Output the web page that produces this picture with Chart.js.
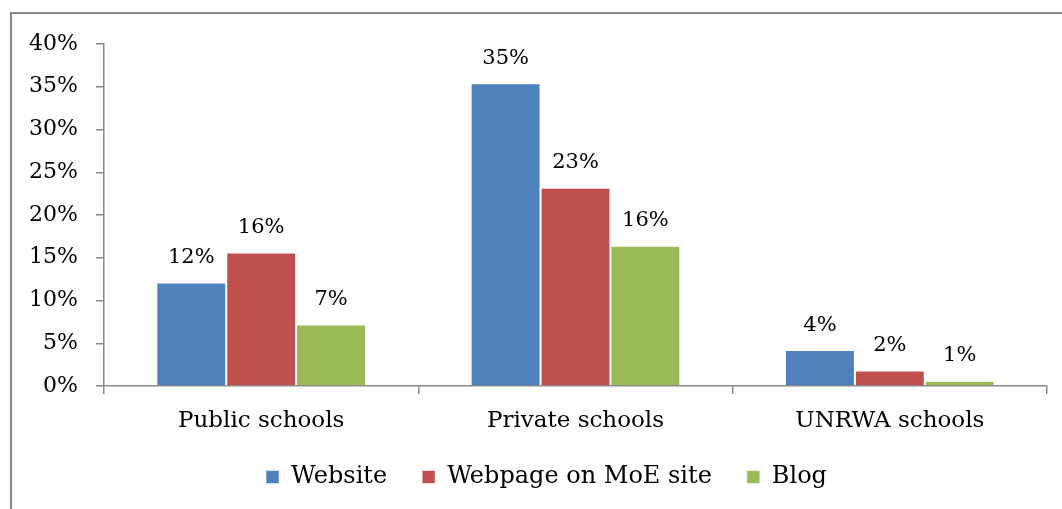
<!DOCTYPE html>
<html>
<head>
<meta charset="utf-8">
<script src="https://cdn.jsdelivr.net/npm/chart.js@4"></script>
<style>
  html, body { margin: 0; padding: 0; background: #fff; }
  #wrap { width: 1062px; height: 509px; position: relative; }
</style>
</head>
<body>
<div id="wrap"><canvas id="chart"></canvas></div>
<script>
/* Dados */
const categories = ['Public schools', 'Private schools', 'UNRWA schools'];
const seriesNames = ['Website', 'Webpage on MoE site', 'Blog'];
const websiteVals = [12.1, 35.4, 4.2];
const webpageVals = [15.6, 23.2, 1.8];
const blogVals    = [7.2, 16.4, 0.6];
const yTicks      = [0, 5, 10, 15, 20, 25, 30, 35, 40];

const colors = ['#4F81BD', '#C0504D', '#9BBB59'];
const FONT = "'DejaVu Serif', serif";
const AXIS = '#8a8a8a';

/* Moldura cinza em volta do gráfico + legenda deslocada p/ direita */
const framePlugin = {
  id: 'frame',
  afterLayout(chart) {
    if (chart.legend) {
      chart.legend.left += 23;
      chart.legend.right += 23;
    }
  },
  beforeDraw(chart) {
    const ctx = chart.ctx;
    ctx.save();
    ctx.strokeStyle = '#8a8a8a';
    ctx.lineWidth = 2;
    ctx.strokeRect(11, 13, 1070, 520);
    ctx.restore();
  }
};

/* Rótulos de valor acima das barras */
const labelPlugin = {
  id: 'valueLabels',
  afterDatasetsDraw(chart) {
    const ctx = chart.ctx;
    ctx.save();
    ctx.font = '21px ' + FONT;
    ctx.fillStyle = '#000';
    ctx.textAlign = 'center';
    ctx.textBaseline = 'middle';
    chart.data.datasets.forEach((ds, i) => {
      chart.getDatasetMeta(i).data.forEach((bar, j) => {
        ctx.fillText(Math.round(ds.data[j]) + '%', bar.x, bar.y - 25);
      });
    });
    ctx.restore();
  }
};

const datasets = [websiteVals, webpageVals, blogVals].map((vals, i) => ({
  label: seriesNames[i],
  data: vals,
  backgroundColor: colors[i],
  borderColor: 'rgba(255,255,255,0.5)',
  borderWidth: 1,
  categoryPercentage: 0.667,
  barPercentage: 1.0,
}));

new Chart(document.getElementById('chart'), {
  type: 'bar',
  data: { labels: categories, datasets },
  plugins: [framePlugin, labelPlugin],
  options: {
    responsive: true,
    maintainAspectRatio: false,
    animation: false,
    layout: { padding: { top: 44, left: 0, right: 15, bottom: 10 } },
    plugins: {
      tooltip: { enabled: false },
      legend: {
        position: 'bottom',
        labels: {
          color: '#000',
          font: { size: 24, family: FONT },
          boxWidth: 13,
          boxHeight: 13,
          padding: 35,
        }
      }
    },
    scales: {
      x: {
        grid: { display: true, drawOnChartArea: false, color: AXIS, lineWidth: 1.5, tickLength: 8, offset: true },
        border: { color: AXIS, width: 1.5 },
        ticks: { color: '#000', font: { size: 23, family: FONT }, padding: 13 },
        afterFit: s => { s.height = 44; }
      },
      y: {
        min: 0,
        max: 40,
        afterBuildTicks: s => { s.ticks = yTicks.map(v => ({ value: v })); },
        grid: { drawOnChartArea: false, color: AXIS, lineWidth: 1.5, tickLength: 8 },
        border: { color: AXIS, width: 1.5 },
        ticks: { color: '#000', font: { size: 22, family: FONT }, padding: 18, callback: v => v + '%' },
        afterFit: s => { s.width = 104; }
      }
    }
  }
});
</script>
</body>
</html>
